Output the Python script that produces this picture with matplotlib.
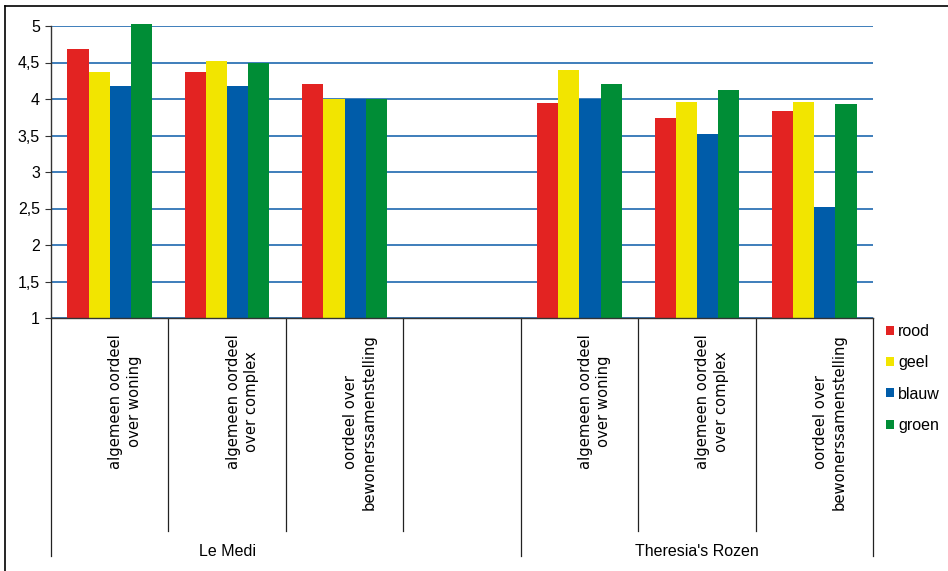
import matplotlib
matplotlib.use("Agg")
import matplotlib.pyplot as plt
from matplotlib.font_manager import fontManager
import numpy as np

categories = ["algemeen oordeel\nover woning", "algemeen oordeel\nover complex",
              "oordeel over\nbewonerssamenstelling", "",
              "algemeen oordeel\nover woning", "algemeen oordeel\nover complex",
              "oordeel over\nbewonerssamenstelling"]
groups = ["Le Medi", "Theresia's Rozen"]
series = ["rood", "geel", "blauw", "groen"]
rood = [4.68, 4.37, 4.21, np.nan, 3.95, 3.74, 3.83]
geel = [4.37, 4.52, 4.00, np.nan, 4.40, 3.96, 3.96]
blauw = [4.18, 4.18, 4.00, np.nan, 4.00, 3.52, 2.52]
groen = [5.03, 4.50, 4.00, np.nan, 4.21, 4.12, 3.93]
yticks = [1, 1.5, 2, 2.5, 3, 3.5, 4, 4.5, 5]
ytick_labels = ["1", "1,5", "2", "2,5", "3", "3,5", "4", "4,5", "5"]

colors = ["#e32322", "#f2e500", "#005ca9", "#008d36"]

names = {f.name for f in fontManager.ttflist}
narrow = "Liberation Sans Narrow" if "Liberation Sans Narrow" in names else "Liberation Sans"

fig = plt.figure(figsize=(9.48, 5.71), dpi=100)
W, H = 948, 571
left, right, top, bottom = 51, 873, 26, 318
ax = fig.add_axes([left / W, 1 - bottom / H, (right - left) / W, (bottom - top) / H])

x = np.arange(len(categories))
bw = 0.18
handles = []
for i, (vals, c, name) in enumerate(zip([rood, geel, blauw, groen], colors, series)):
    b = ax.bar(x + (i - 1.5) * bw, np.array(vals) - 1, bw, bottom=1, color=c,
               label=name, clip_on=False, zorder=3, linewidth=0)
    handles.append(b)

ax.set_xlim(-0.5, len(categories) - 0.5)
ax.set_ylim(1, 5)
ax.set_yticks(yticks)
ax.set_yticklabels(ytick_labels, fontsize=11.5, family="Liberation Sans")
ax.tick_params(axis="y", length=4, width=0.8, color="#333333", pad=4)
ax.set_xticks([])
ax.grid(axis="y", color="#2f74b5", linewidth=1.3, zorder=0)
ax.set_axisbelow(True)
for s in ["top", "right"]:
    ax.spines[s].set_visible(False)
for s in ["left", "bottom"]:
    ax.spines[s].set_color("#333333")
    ax.spines[s].set_linewidth(1.0)
    ax.spines[s].set_zorder(4)

# category and group separators
trans = ax.get_xaxis_transform()
short_y = (bottom - 531) / (bottom - top)
long_y = (bottom - 556) / (bottom - top)
for k in range(len(categories) + 1):
    xs = k - 0.5
    yend = long_y if k in (0, 4, len(categories)) else short_y
    ax.plot([xs, xs], [0, yend], transform=trans, color="#222222", lw=0.9, clip_on=False)

label_top = (bottom - 334) / (bottom - top)
for k, lab in enumerate(categories):
    if lab:
        ax.text(k + 0.13, label_top, lab, transform=trans, rotation=90, ha="center", va="top",
                multialignment="center", fontsize=10.6, linespacing=1.3, family="DejaVu Sans")

group_y = (bottom - 551) / (bottom - top)
ax.text(1, group_y, groups[0], transform=trans, ha="center", va="center", fontsize=11.5, family=narrow)
ax.text(5, group_y, groups[1], transform=trans, ha="center", va="center", fontsize=11.5, family=narrow)

leg = fig.legend(handles=handles, loc="upper left", bbox_to_anchor=(886 / W, 1 - 324 / H),
                 frameon=False, handlelength=0.5, handleheight=0.5, handletextpad=0.25,
                 labelspacing=1.02, prop={"family": narrow, "size": 11.5}, borderaxespad=0,
                 borderpad=0)

# outer frame lines (top and left)
fig.add_artist(plt.Line2D([5 / W, 1], [1 - 6 / H, 1 - 6 / H], transform=fig.transFigure, color="black", lw=1.2))
fig.add_artist(plt.Line2D([5 / W, 5 / W], [0, 1 - 6 / H], transform=fig.transFigure, color="black", lw=1.2))

fig.savefig("out.png", dpi=100)
